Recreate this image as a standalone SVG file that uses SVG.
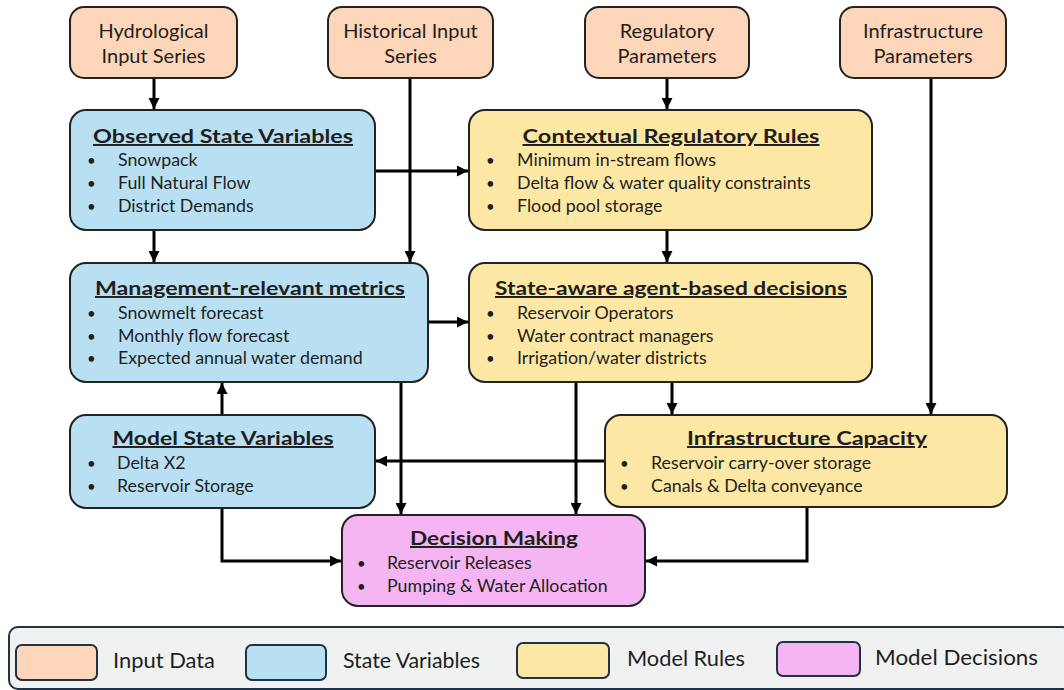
<svg xmlns="http://www.w3.org/2000/svg" width="1064" height="690" viewBox="0 0 1064 690">
<style>
text{font-family:Lato,"Open Sans","Liberation Sans",sans-serif;fill:#1e1e1e}
.box{stroke:#222;stroke-width:2}
.in{fill:#fdd5b9}
.st{fill:#b9e0f2}
.ru{fill:#fde7a4}
.de{fill:#f5b5f2}
.h{font-size:20px;text-anchor:middle}
.t{font-size:19.5px;font-weight:bold;text-anchor:middle;text-decoration:underline}
.b{font-size:17.8px}
.d{font-size:15px}
.c{fill:none;stroke:#000;stroke-width:3}
.lg{font-size:21px}
.sw{stroke:#1f3344;stroke-width:2}
</style>
<defs>
<marker id="ah" viewBox="0 0 10 10" refX="10" refY="5" markerWidth="11" markerHeight="11" markerUnits="userSpaceOnUse" orient="auto">
<path d="M0,0 L10,5 L0,10 z" fill="#000"/>
</marker>
</defs>
<rect width="1064" height="690" fill="#fff"/>

<g id="connectors">
<path class="c" d="M154,78 V109" marker-end="url(#ah)"/>
<path class="c" d="M410,78 V262" marker-end="url(#ah)"/>
<path class="c" d="M667,78 V109" marker-end="url(#ah)"/>
<path class="c" d="M931,78 V414" marker-end="url(#ah)"/>
<path class="c" d="M375,171 H468" marker-end="url(#ah)"/>
<path class="c" d="M154,230 V262" marker-end="url(#ah)"/>
<path class="c" d="M667,230 V262" marker-end="url(#ah)"/>
<path class="c" d="M428,322 H468" marker-end="url(#ah)"/>
<path class="c" d="M672,382 V414" marker-end="url(#ah)"/>
<path class="c" d="M576,382 V514" marker-end="url(#ah)"/>
<path class="c" d="M401,382 V514" marker-end="url(#ah)"/>
<path class="c" d="M222,415 V383" marker-end="url(#ah)"/>
<path class="c" d="M605,461 H376" marker-end="url(#ah)"/>
<path class="c" d="M222,508 V561 H341" marker-end="url(#ah)"/>
<path class="c" d="M807,507 V561 H646" marker-end="url(#ah)"/>
</g>

<g id="hydro">
<rect class="box in" x="70" y="7" width="167" height="71" rx="14"/>
<text class="h" x="153.5" y="38">Hydrological</text>
<text class="h" x="153.5" y="63">Input Series</text>
</g>
<g id="historical">
<rect class="box in" x="328" y="7" width="165" height="71" rx="14"/>
<text class="h" x="410.5" y="38">Historical Input</text>
<text class="h" x="410.5" y="63">Series</text>
</g>
<g id="regulatory">
<rect class="box in" x="585" y="7" width="164" height="71" rx="14"/>
<text class="h" x="667" y="38">Regulatory</text>
<text class="h" x="667" y="63">Parameters</text>
</g>
<g id="infraparams">
<rect class="box in" x="840" y="7" width="166" height="71" rx="14"/>
<text class="h" x="923" y="38">Infrastructure</text>
<text class="h" x="923" y="63">Parameters</text>
</g>

<g id="observed">
<rect class="box st" x="70" y="110" width="305" height="120" rx="16"/>
<text class="t" x="223" y="143" textLength="260" lengthAdjust="spacingAndGlyphs">Observed State Variables</text>
<text class="d" x="87" y="166">•</text><text class="b" x="118" y="166">Snowpack</text>
<text class="d" x="87" y="189">•</text><text class="b" x="118" y="189">Full Natural Flow</text>
<text class="d" x="87" y="212">•</text><text class="b" x="118" y="212">District Demands</text>
</g>

<g id="contextual">
<rect class="box ru" x="469" y="110" width="403" height="120" rx="16"/>
<text class="t" x="671" y="143" textLength="297" lengthAdjust="spacingAndGlyphs">Contextual Regulatory Rules</text>
<text class="d" x="486" y="166">•</text><text class="b" x="517" y="166">Minimum in-stream flows</text>
<text class="d" x="486" y="189">•</text><text class="b" x="517" y="189">Delta flow &amp; water quality constraints</text>
<text class="d" x="486" y="212">•</text><text class="b" x="517" y="212">Flood pool storage</text>
</g>

<g id="management">
<rect class="box st" x="70" y="263" width="358" height="119" rx="16"/>
<text class="t" x="250" y="295" textLength="310" lengthAdjust="spacingAndGlyphs">Management-relevant metrics</text>
<text class="d" x="87" y="319">•</text><text class="b" x="118" y="319">Snowmelt forecast</text>
<text class="d" x="87" y="342">•</text><text class="b" x="118" y="342">Monthly flow forecast</text>
<text class="d" x="87" y="364">•</text><text class="b" x="118" y="364">Expected annual water demand</text>
</g>

<g id="stateaware">
<rect class="box ru" x="469" y="263" width="403" height="119" rx="16"/>
<text class="t" x="671" y="295" textLength="352" lengthAdjust="spacingAndGlyphs">State-aware agent-based decisions</text>
<text class="d" x="486" y="319">•</text><text class="b" x="517" y="319">Reservoir Operators</text>
<text class="d" x="486" y="342">•</text><text class="b" x="517" y="342">Water contract managers</text>
<text class="d" x="486" y="364">•</text><text class="b" x="517" y="364">Irrigation/water districts</text>
</g>

<g id="modelstate">
<rect class="box st" x="70" y="415" width="305" height="93" rx="16"/>
<text class="t" x="223" y="445" textLength="221" lengthAdjust="spacingAndGlyphs">Model State Variables</text>
<text class="d" x="87" y="469">•</text><text class="b" x="117" y="469">Delta X2</text>
<text class="d" x="87" y="492">•</text><text class="b" x="117" y="492">Reservoir Storage</text>
</g>

<g id="infracap">
<rect class="box ru" x="605" y="415" width="402" height="92" rx="16"/>
<text class="t" x="807" y="445" textLength="240" lengthAdjust="spacingAndGlyphs">Infrastructure Capacity</text>
<text class="d" x="620" y="469">•</text><text class="b" x="651" y="469">Reservoir carry-over storage</text>
<text class="d" x="620" y="492">•</text><text class="b" x="651" y="492">Canals &amp; Delta conveyance</text>
</g>

<g id="decision">
<rect class="box de" x="342" y="515" width="303" height="91" rx="16"/>
<text class="t" x="494" y="545" textLength="168" lengthAdjust="spacingAndGlyphs">Decision Making</text>
<text class="d" x="357" y="569">•</text><text class="b" x="387" y="569">Reservoir Releases</text>
<text class="d" x="357" y="592">•</text><text class="b" x="387" y="592">Pumping &amp; Water Allocation</text>
</g>

<g id="legend">
<rect x="9" y="627" width="1062" height="62" rx="9" fill="#f0f1f1" stroke="#1f3344" stroke-width="2"/>
<rect class="sw in" x="16" y="645" width="81" height="35" rx="6"/>
<text class="lg" x="113" y="668" textLength="102" lengthAdjust="spacingAndGlyphs">Input Data</text>
<rect class="sw st" x="246" y="645" width="80" height="35" rx="6"/>
<text class="lg" x="343" y="668" textLength="137" lengthAdjust="spacingAndGlyphs">State Variables</text>
<rect class="sw ru" x="517" y="643" width="92" height="35" rx="6"/>
<text class="lg" x="627" y="666" textLength="118" lengthAdjust="spacingAndGlyphs">Model Rules</text>
<rect class="sw de" x="777" y="642" width="83" height="34" rx="6"/>
<text class="lg" x="875" y="665" textLength="163" lengthAdjust="spacingAndGlyphs">Model Decisions</text>
</g>
</svg>
